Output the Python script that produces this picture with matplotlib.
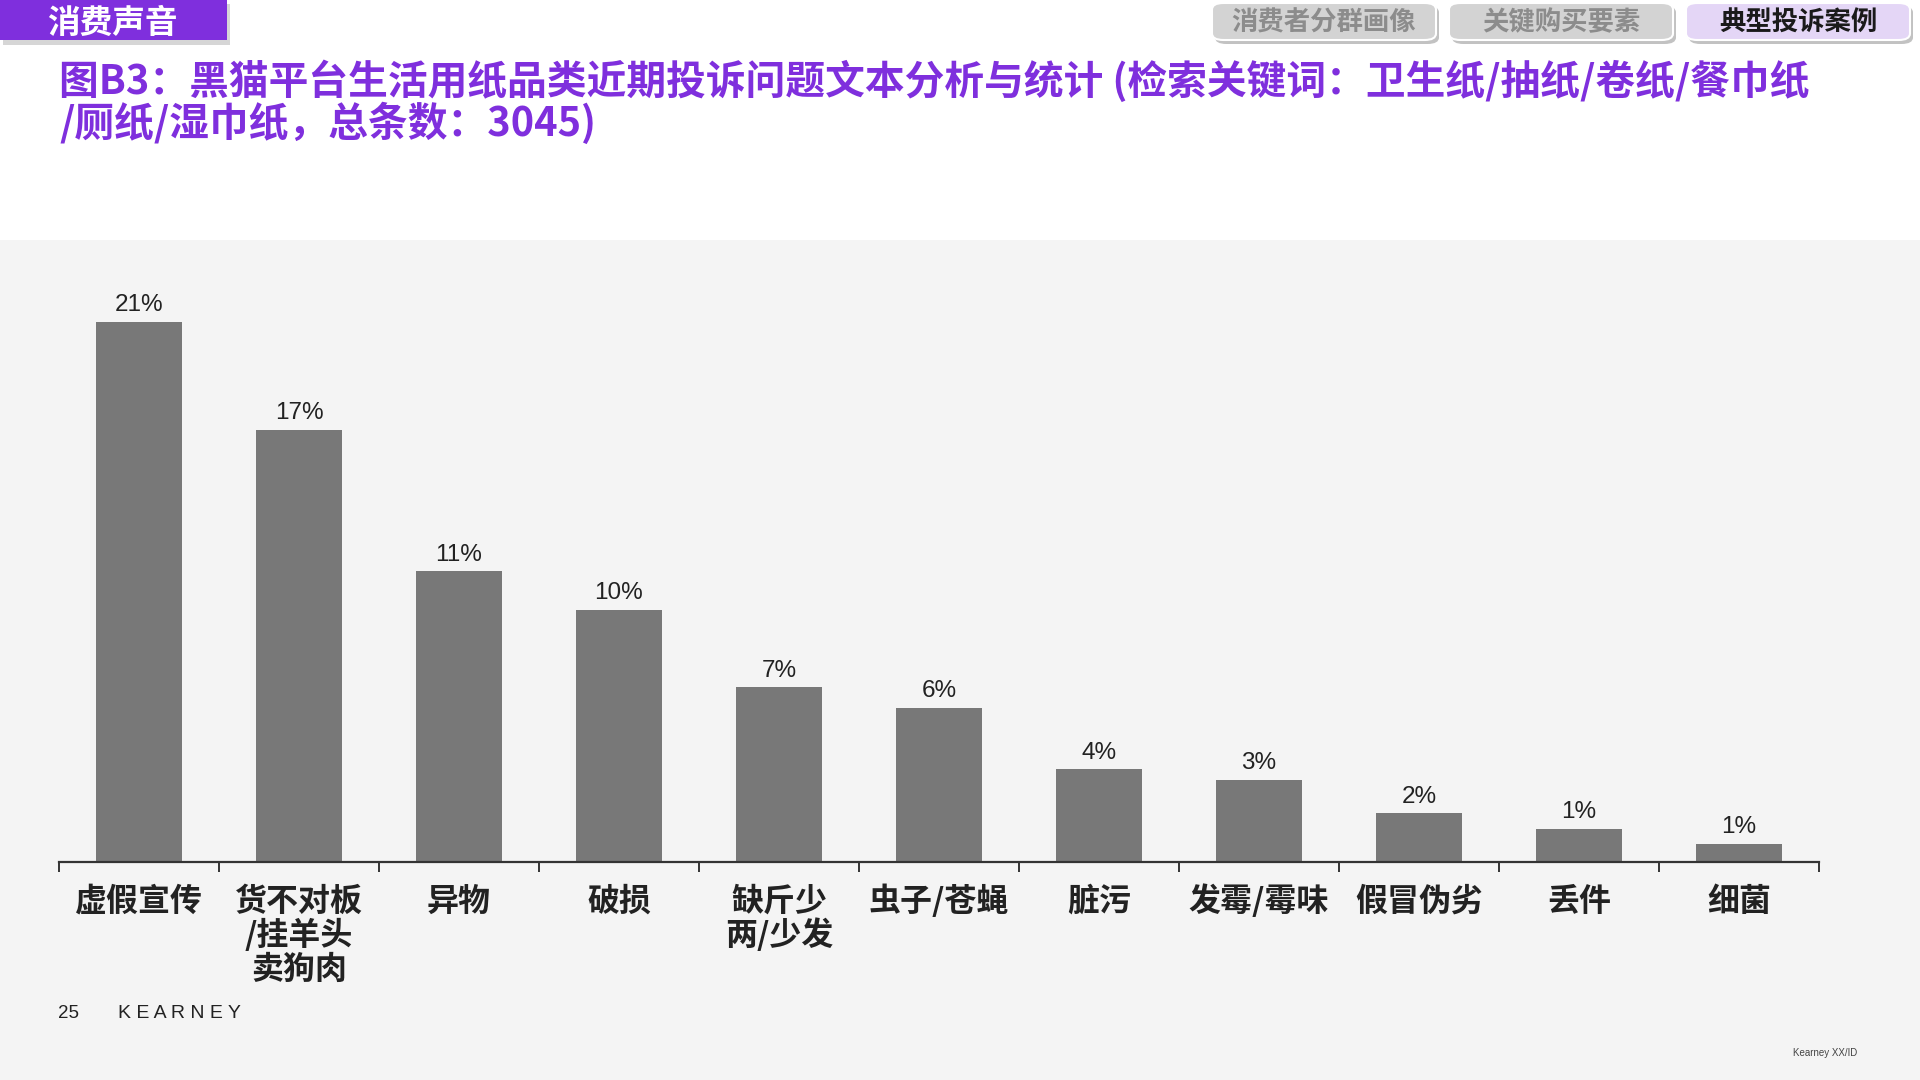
import matplotlib
matplotlib.use("Agg")
import matplotlib.pyplot as plt
from matplotlib.patches import Rectangle, FancyBboxPatch

plt.rcParams['font.family'] = ['Noto Sans CJK SC', 'DejaVu Sans']

# data
categories = ['虚假宣传', '货不对板\n/挂羊头\n卖狗肉', '异物', '破损', '缺斤少\n两/少发',
              '虫子/苍蝇', '脏污', '发霉/霉味', '假冒伪劣', '丢件', '细菌']
shares = [21.0, 16.8, 11.3, 9.8, 6.8, 6.0, 3.6, 3.2, 1.9, 1.3, 0.7]
tabs = ['消费者分群画像', '关键购买要素', '典型投诉案例']

title = ('图B3：黑猫平台生活用纸品类近期投诉问题文本分析与统计 (检索关键词：卫生纸/抽纸/卷纸/餐巾纸\n'
         '/厕纸/湿巾纸，总条数：3045)')

PURPLE = '#7F2FDD'
BAR = '#787878'
W, H = 1920, 1080
LATIN = ['Liberation Sans', 'DejaVu Sans']


def fx(px):
    return px / W


def fy(py):
    # top-based pixel -> figure fraction
    return 1 - py / H


fig = plt.figure(figsize=(19.2, 10.8), dpi=100)
fig.patch.set_facecolor('white')

# grey content panel
fig.add_artist(Rectangle((0, 0), 1, fy(240), transform=fig.transFigure,
                         facecolor='#f4f4f4', edgecolor='none', zorder=0))

# top-left section tag with shadow
fig.add_artist(Rectangle((fx(3), fy(45)), fx(227), fy(4) - fy(45), transform=fig.transFigure,
                         facecolor='#bbbbbb', edgecolor='none', alpha=0.6, zorder=1))
fig.add_artist(Rectangle((0, fy(40)), fx(227), 1 - fy(40), transform=fig.transFigure,
                         facecolor=PURPLE, edgecolor='none', zorder=2))
fig.text(fx(112), fy(23), '消费声音', color='white', fontsize=23.5, fontweight='black',
         ha='center', va='center', zorder=3)

# top-right navigation tabs
tab_x = [1212, 1449, 1686]
tab_fill = ['#d3d3d3', '#d3d3d3', '#e4d6f6']
tab_text = ['#8c8c8c', '#8c8c8c', '#1a1a1a']
for t, x0, fc, tc in zip(tabs, tab_x, tab_fill, tab_text):
    fig.add_artist(FancyBboxPatch((fx(x0 + 3), fy(44)), fx(224), fy(6) - fy(44),
                                  boxstyle='round,pad=0,rounding_size=0.006',
                                  transform=fig.transFigure, facecolor='#a8a8a8',
                                  edgecolor='none', alpha=0.7, zorder=1))
    fig.add_artist(FancyBboxPatch((fx(x0), fy(40)), fx(224), fy(3) - fy(40),
                                  boxstyle='round,pad=0,rounding_size=0.006',
                                  transform=fig.transFigure, facecolor=fc,
                                  edgecolor='white', linewidth=1.5, zorder=2))
    fig.text(fx(x0 + 112), fy(23), t, color=tc, fontsize=19, fontweight='black',
             ha='center', va='center', zorder=3)

# title
fig.text(fx(59), fy(60), title, color=PURPLE, fontsize=28.6, fontweight='black',
         ha='left', va='top', linespacing=1.0)

# chart
ax = fig.add_axes([fx(59), fy(862), fx(1760), fy(240) - fy(862)])
ax.set_facecolor('none')
x = list(range(len(categories)))
ax.bar(x, shares, width=0.54, color=BAR, zorder=2)
for xi, v in zip(x, shares):
    ax.annotate(f'{v:.0f}%', (xi, v), xytext=(0, 4), textcoords='offset points',
                ha='center', va='bottom', fontsize=17.5, color='#222222', family=LATIN)

ax.set_xlim(-0.5, len(categories) - 0.5)
ax.set_ylim(0, 21.0 * 622 / 540)
for s in ['top', 'right', 'left']:
    ax.spines[s].set_visible(False)
ax.spines['bottom'].set_color('#333333')
ax.spines['bottom'].set_linewidth(1.6)
ax.set_yticks([])
ax.set_xticks([i - 0.5 for i in range(len(categories) + 1)])
ax.set_xticklabels([])
ax.tick_params(axis='x', which='major', length=7, width=1.4, color='#333333', direction='out')

# category labels, one text per line so baselines line up across bars
for xi, c in zip(x, categories):
    for k, line in enumerate(c.split('\n')):
        ax.annotate(line, (xi, 0), xycoords=('data', 'axes fraction'),
                    xytext=(0, -35 - 24.5 * k), textcoords='offset points',
                    ha='center', va='baseline', fontsize=23, fontweight='black',
                    color='#222222')

# footer
fig.text(fx(58), fy(1013), '25', fontsize=13.5, color='#222222', va='center', family=LATIN)
fig.text(fx(118), fy(1013), 'K E A R N E Y', fontsize=14, color='#222222', va='center',
         family=LATIN)
fig.text(fx(1793), fy(1053), 'Kearney XX/ID', fontsize=7, color='#444444', va='center',
         family=LATIN)

fig.savefig('out.png', dpi=100)
